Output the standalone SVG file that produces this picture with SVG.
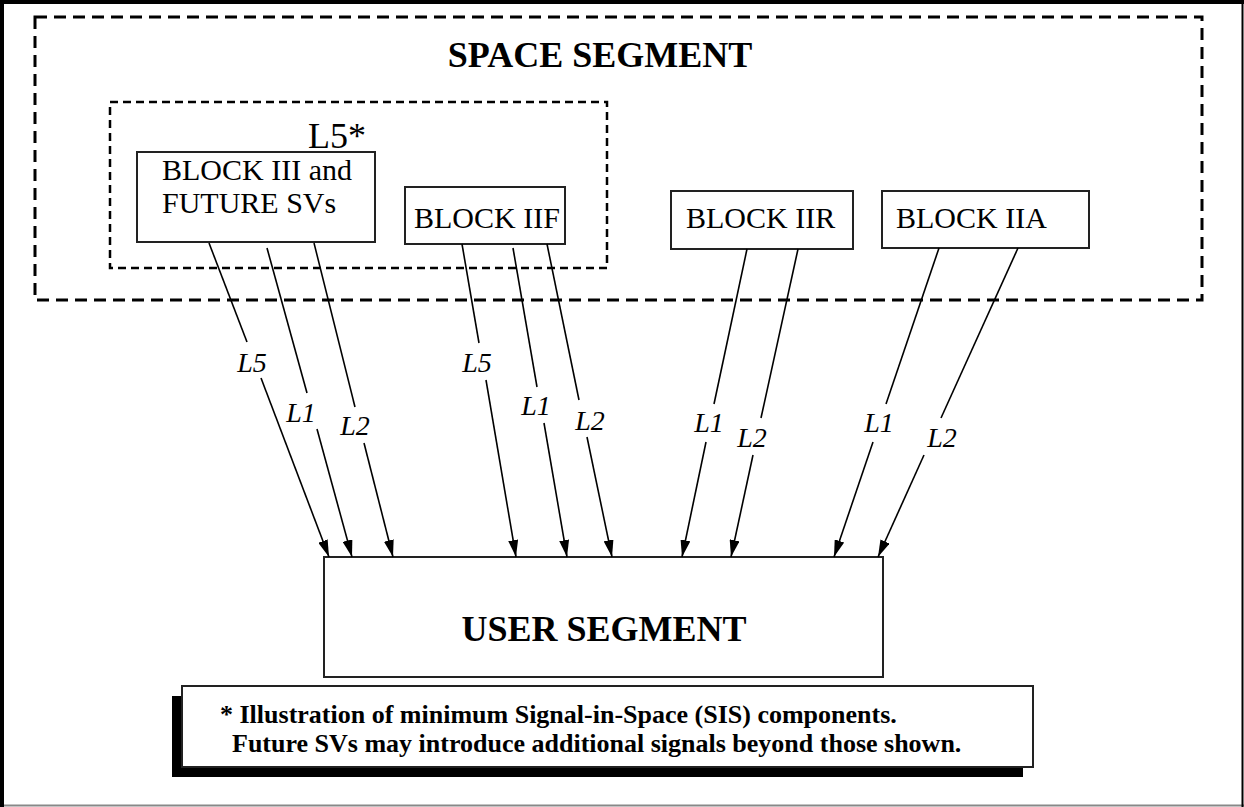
<svg xmlns="http://www.w3.org/2000/svg" width="1244" height="807" viewBox="0 0 1244 807">
<defs>
<marker id="ah" viewBox="0 0 17 10" refX="17" refY="5" markerWidth="17" markerHeight="10" markerUnits="userSpaceOnUse" orient="auto">
<path d="M0,0 L17,5 L0,10 Z" fill="#000"/>
</marker>
<style>
.box{fill:#fff;stroke:#222;stroke-width:2}
.t{font-family:"Liberation Serif","Times New Roman",serif;fill:#000}
.bt{font-size:30px}
.seg{font-size:36px;font-weight:bold}
.lab{font-size:28px;font-style:italic;text-anchor:middle}
.note{font-size:26px;font-weight:bold}
.conn line{stroke:#000;stroke-width:1.6}
</style>
</defs>
<rect width="1244" height="807" fill="#fff"/>
<g id="frame">
<line x1="0" y1="805.5" x2="1244" y2="805.5" stroke="#888" stroke-width="2"/>
<line x1="1242.5" y1="0" x2="1242.5" y2="807" stroke="#000" stroke-width="2"/>
<line x1="0" y1="2" x2="1244" y2="2" stroke="#000" stroke-width="4"/>
<line x1="2" y1="0" x2="2" y2="807" stroke="#000" stroke-width="4"/>
</g>
<g id="space-segment">
<rect x="35" y="17" width="1167" height="283" fill="none" stroke="#000" stroke-width="3" stroke-dasharray="12,7"/>
<text class="t seg" x="600" y="67" text-anchor="middle">SPACE SEGMENT</text>
</g>
<g id="l5-group">
<rect x="110" y="102" width="497" height="166" fill="none" stroke="#000" stroke-width="2.5" stroke-dasharray="8,5"/>
<text class="t" x="308" y="148" font-size="36">L5*</text>
</g>
<g id="block-iii">
<rect class="box" x="137" y="152" width="238" height="90"/>
<text class="t bt" x="162" y="180">BLOCK III and</text>
<text class="t bt" x="162" y="213">FUTURE SVs</text>
</g>
<g id="block-iif">
<rect class="box" x="405" y="187" width="160" height="57"/>
<text class="t bt" x="414" y="228">BLOCK IIF</text>
</g>
<g id="block-iir">
<rect class="box" x="671" y="191" width="182" height="58"/>
<text class="t bt" x="686" y="228">BLOCK IIR</text>
</g>
<g id="block-iia">
<rect class="box" x="882" y="191" width="207" height="57"/>
<text class="t bt" x="896" y="228">BLOCK IIA</text>
</g>
<g id="user-segment">
<rect class="box" x="324" y="557" width="559" height="120"/>
<text class="t seg" x="604" y="641" text-anchor="middle">USER SEGMENT</text>
</g>
<g id="note">
<rect x="172" y="696" width="851" height="81" fill="#000"/>
<rect x="182" y="686" width="851" height="81" fill="#fff" stroke="#222" stroke-width="2"/>
<text class="t note" x="220" y="723">* Illustration of minimum Signal-in-Space (SIS) components.</text>
<text class="t note" x="232" y="752">Future SVs may introduce additional signals beyond those shown.</text>
</g>
<g id="connectors" class="conn">
<line x1="209" y1="243" x2="247" y2="342"/><line x1="261" y1="378" x2="329" y2="557" marker-end="url(#ah)"/>
<line x1="267" y1="248" x2="307" y2="393"/><line x1="317" y1="429" x2="352" y2="557" marker-end="url(#ah)"/>
<line x1="314" y1="243" x2="355" y2="407"/><line x1="364" y1="443" x2="393" y2="557" marker-end="url(#ah)"/>
<line x1="462" y1="244" x2="479" y2="343"/><line x1="486" y1="380" x2="516" y2="557" marker-end="url(#ah)"/>
<line x1="513" y1="248" x2="537" y2="387"/><line x1="544" y1="423" x2="567" y2="557" marker-end="url(#ah)"/>
<line x1="547" y1="244" x2="579" y2="400"/><line x1="587" y1="437" x2="612" y2="557" marker-end="url(#ah)"/>
<line x1="747" y1="249" x2="714" y2="404"/><line x1="706" y1="442" x2="682" y2="557" marker-end="url(#ah)"/>
<line x1="798" y1="249" x2="761" y2="418"/><line x1="753" y1="455" x2="731" y2="557" marker-end="url(#ah)"/>
<line x1="939" y1="248" x2="886" y2="404"/><line x1="873" y1="442" x2="834" y2="557" marker-end="url(#ah)"/>
<line x1="1018" y1="248" x2="941" y2="418"/><line x1="924" y1="455" x2="878" y2="557" marker-end="url(#ah)"/>
</g>
<g id="labels">
<text class="t lab" x="252" y="372">L5</text>
<text class="t lab" x="301" y="422">L1</text>
<text class="t lab" x="355" y="435">L2</text>
<text class="t lab" x="477" y="372">L5</text>
<text class="t lab" x="536" y="415">L1</text>
<text class="t lab" x="590" y="430">L2</text>
<text class="t lab" x="709" y="432">L1</text>
<text class="t lab" x="752" y="447">L2</text>
<text class="t lab" x="879" y="432">L1</text>
<text class="t lab" x="942" y="447">L2</text>
</g>
</svg>
